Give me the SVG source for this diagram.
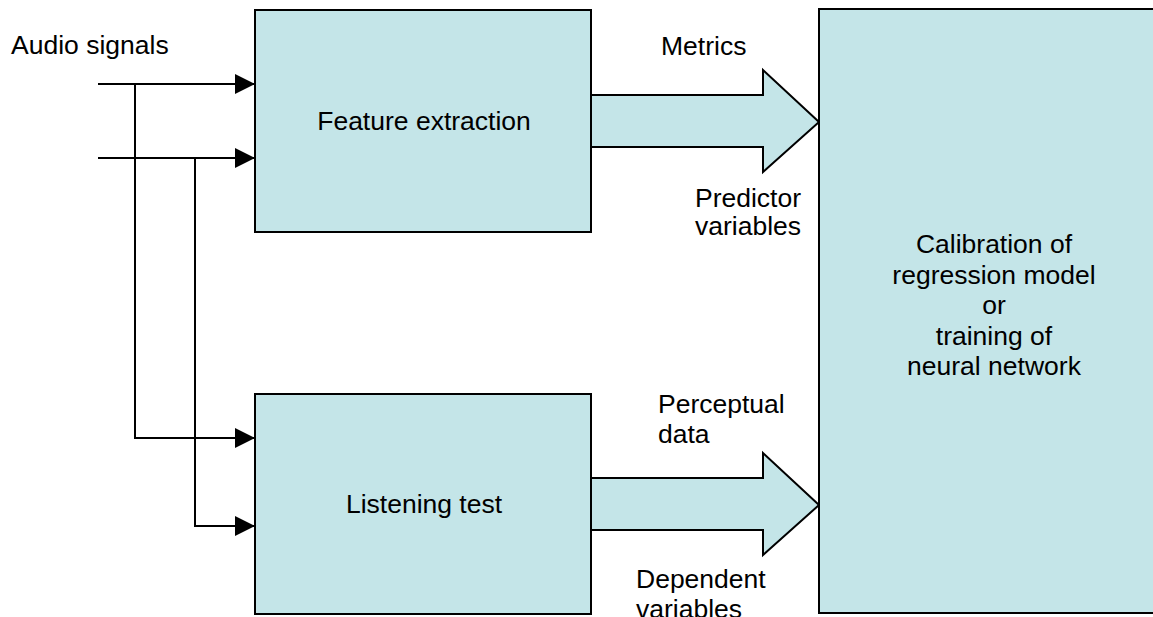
<svg xmlns="http://www.w3.org/2000/svg" width="1153" height="617" viewBox="0 0 1153 617">
<style>
.box{fill:#C4E5E8;stroke:#000;stroke-width:2}
.blk{fill:#C4E5E8;stroke:#000;stroke-width:2;stroke-linejoin:miter}
.ln{fill:none;stroke:#000;stroke-width:2}
text{font-family:"Liberation Sans",Arial,sans-serif;font-size:26.5px;fill:#000}
.c{text-anchor:middle}
</style>
<defs>
<marker id="ah" markerUnits="userSpaceOnUse" markerWidth="20" markerHeight="20" refX="20" refY="10" orient="auto" viewBox="0 0 20 20">
<path d="M0,0 L20,10 L0,20 Z" fill="#000"/>
</marker>
</defs>
<rect width="1153" height="617" fill="#fff"/>
<g id="connectors">
<path class="ln" d="M98,84 H255" marker-end="url(#ah)"/>
<path class="ln" d="M98,158 H255" marker-end="url(#ah)"/>
<path class="ln" d="M135,84 V438 H255" marker-end="url(#ah)"/>
<path class="ln" d="M195,158 V526 H255" marker-end="url(#ah)"/>
<polygon id="arrow-metrics" class="blk" points="591,95 763,95 763,70 819,122 763,172 763,147 591,147"/>
<polygon id="arrow-perceptual" class="blk" points="591,478 763,478 763,453 819,505 763,555 763,530 591,530"/>
</g>
<g id="label-audio"><text x="11" y="54">Audio signals</text></g>
<g id="node-feature">
<rect class="box" x="255" y="10" width="336" height="222"/>
<text class="c" x="424" y="130">Feature extraction</text>
</g>
<g id="node-listening">
<rect class="box" x="255" y="394" width="336" height="220"/>
<text class="c" x="424" y="513">Listening test</text>
</g>
<g id="node-calibration">
<rect class="box" x="819" y="9" width="350" height="604"/>
<text class="c" x="994" y="253">Calibration of</text>
<text class="c" x="994" y="283.5">regression model</text>
<text class="c" x="994" y="314">or</text>
<text class="c" x="994" y="344.5">training of</text>
<text class="c" x="994" y="375">neural network</text>
</g>
<g id="labels">
<text x="661" y="55">Metrics</text>
<text x="695" y="207">Predictor</text>
<text x="695" y="235">variables</text>
<text x="658" y="413">Perceptual</text>
<text x="658" y="443">data</text>
<text x="636" y="588">Dependent</text>
<text x="636" y="618">variables</text>
</g>
</svg>
